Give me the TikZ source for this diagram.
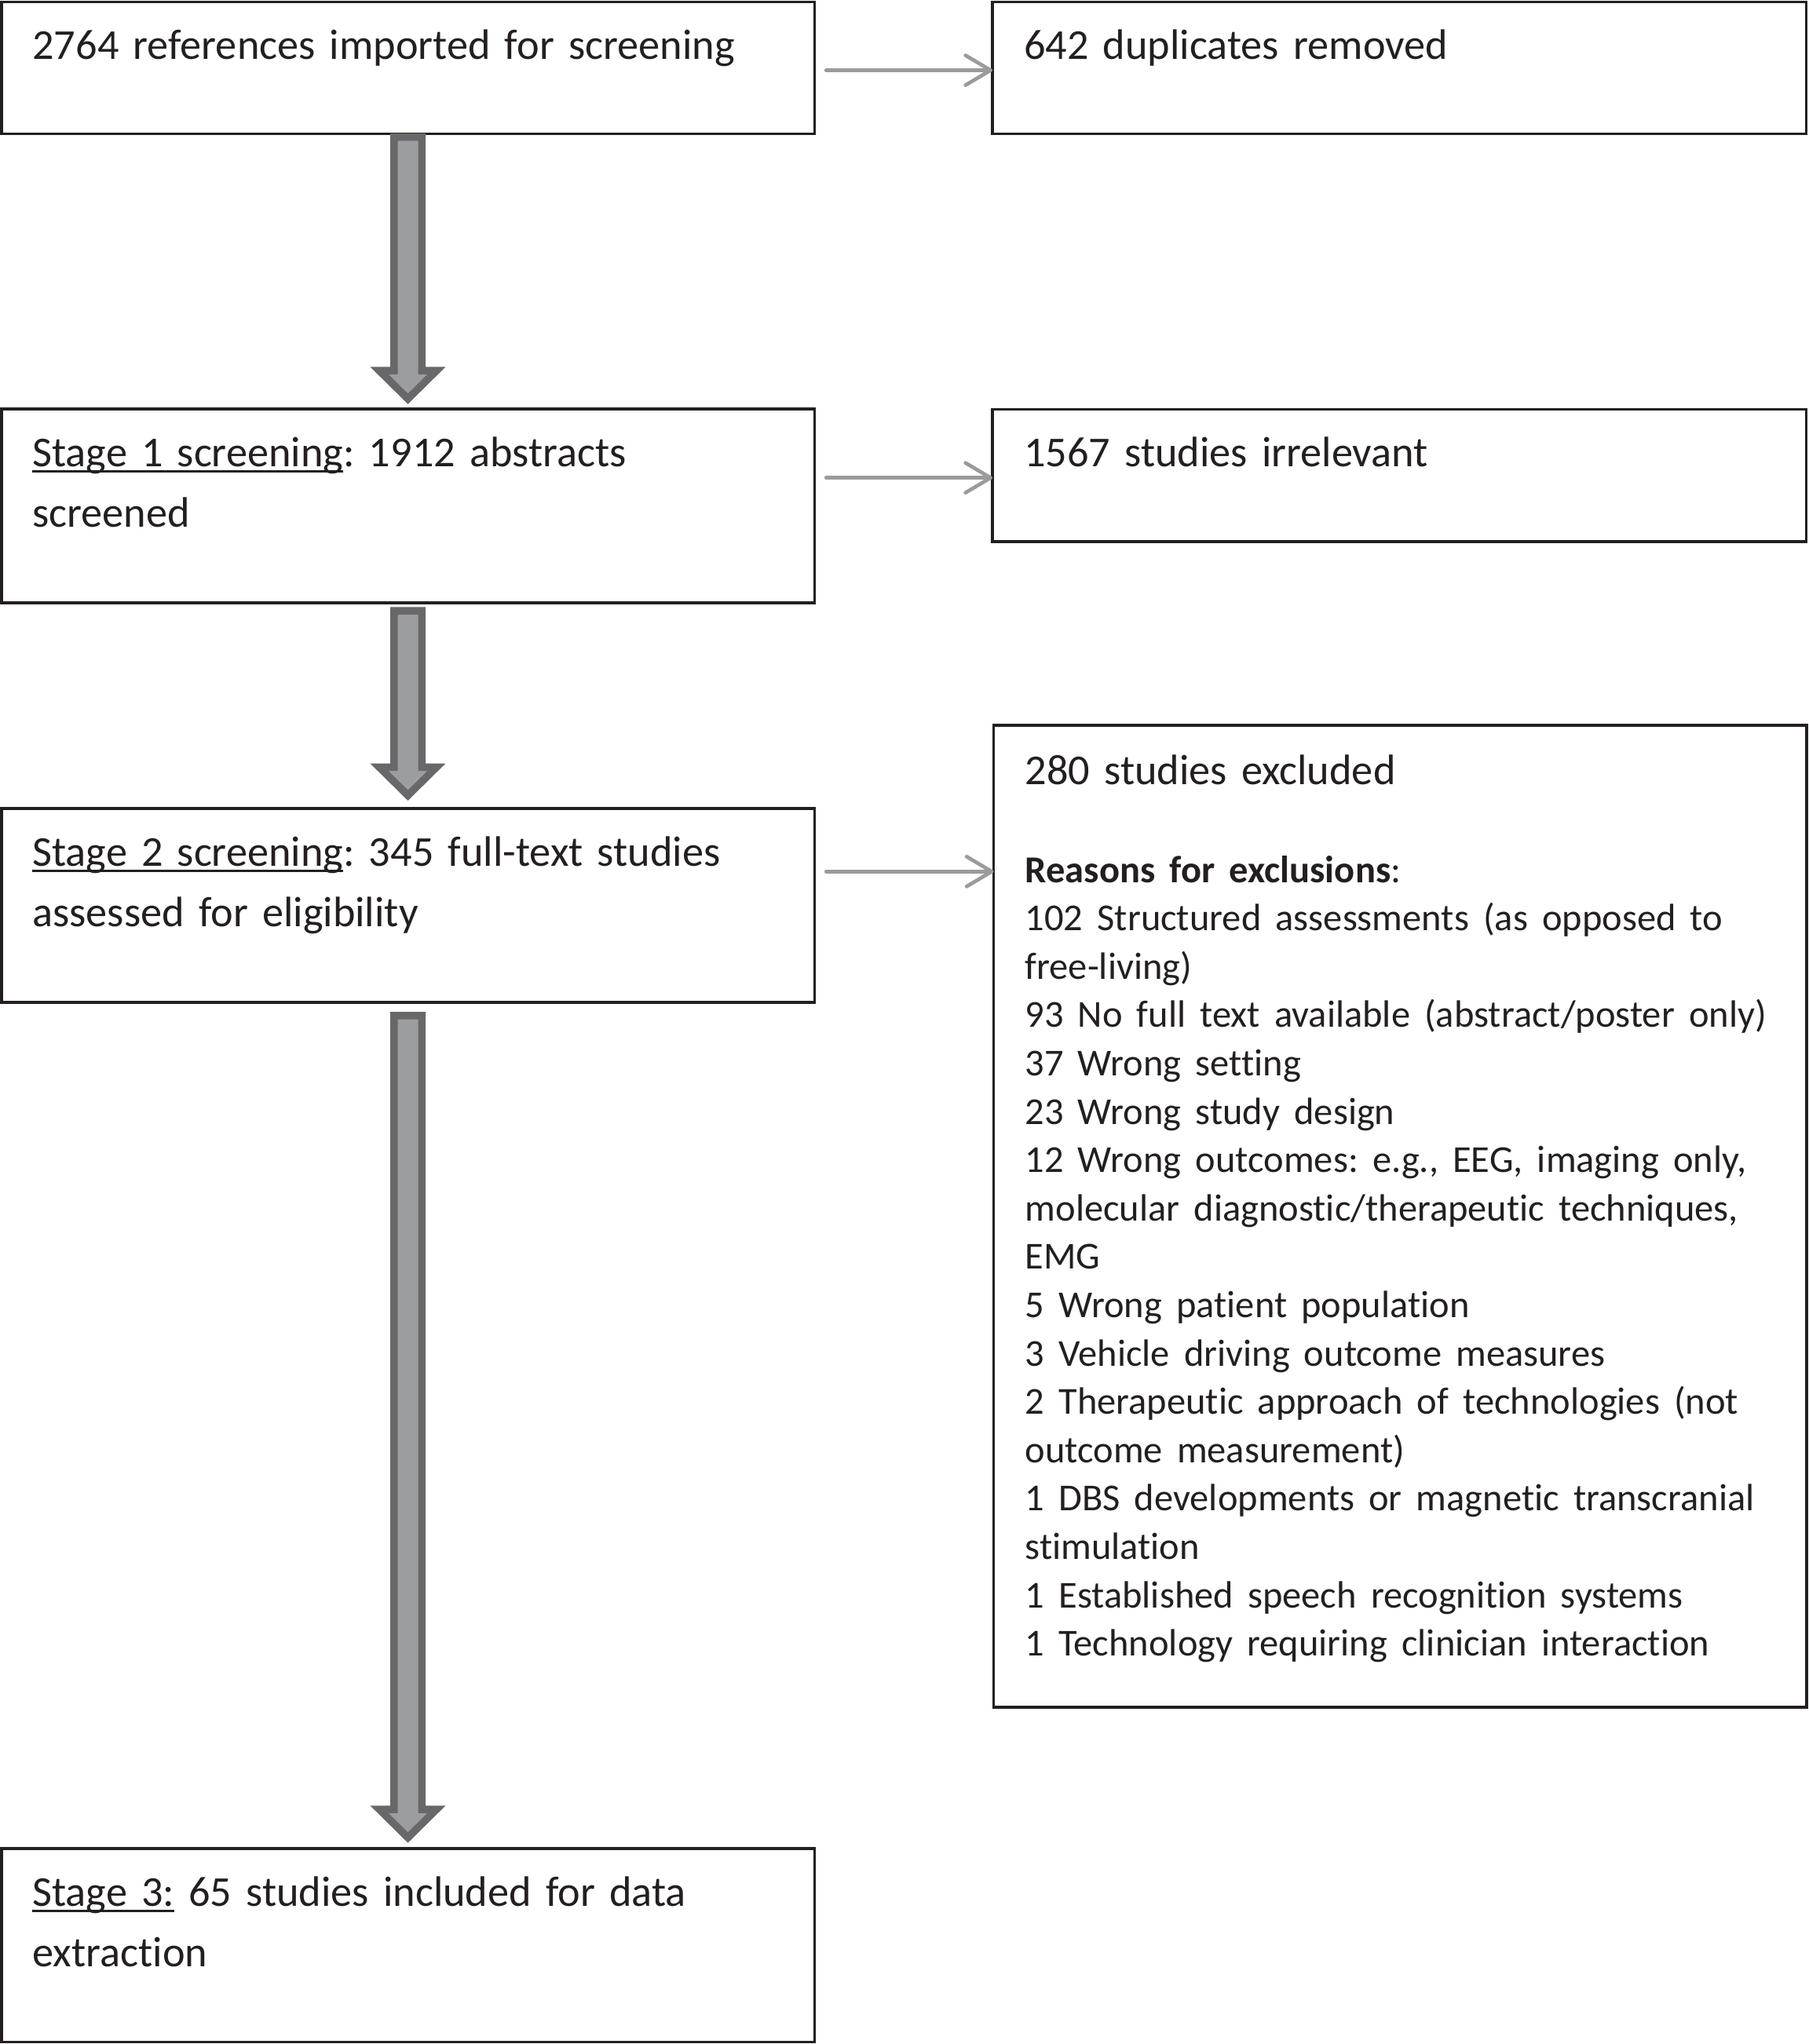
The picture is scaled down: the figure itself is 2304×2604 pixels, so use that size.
\documentclass[tikz,border=0pt]{standalone}
\usepackage{fontspec}
\setmainfont{Carlito}[Ligatures=NoCommon]
\usetikzlibrary{calc,arrows.meta}
\definecolor{boxline}{HTML}{231F20}
\definecolor{thinarr}{HTML}{9B9B9B}
\definecolor{fatedge}{HTML}{68686B}
\definecolor{fatfill}{HTML}{9C9DA1}
\newcommand\ulx[1]{\setbox0\hbox{#1}\rlap{\rule[-8pt]{\wd0}{3.4pt}}\box0}
\newcommand\fatarr[4]{%
  \draw[fatarrow] ($(#1.south)+(-17.75,#3)$) -- ($(#2.north)+(-17.75,-#4-36)$)
    -- ($(#2.north)+(-36.5,-#4-36)$) -- ($(#2.north)+(0,-#4)$)
    -- ($(#2.north)+(36.5,-#4-36)$) -- ($(#2.north)+(17.75,-#4-36)$)
    -- ($(#1.south)+(17.75,#3)$) -- cycle;}
\begin{document}
\frenchspacing
\hyphenpenalty=10000
\begin{tikzpicture}[x=1pt,y=-1pt,
  box/.style={draw=boxline, line width=3.5pt, rectangle, inner sep=0pt, outer sep=0pt, anchor=north west},
  lefttext/.style={anchor=base west, inner sep=0pt, text width=1100pt, align=left, text=boxline,
    font=\fontsize{54.3}{77.2}\selectfont\frenchspacing},
  righttext/.style={anchor=base west, inner sep=0pt, text width=1100pt, align=left, text=boxline,
    font=\fontsize{54.3}{61.8}\selectfont\frenchspacing},
  thinarrow/.style={draw=thinarr, line width=4.7pt, line cap=round,
    -{Straight Barb[length=32pt,width=38pt,round]}},
  fatarrow/.style={draw=fatedge, fill=fatfill, line width=9.5pt, line join=miter}
]
\useasboundingbox (0,0) rectangle (2304,2604);

% boxes
\node[box, minimum width=1035.5pt, minimum height=168pt] (b1) at (1.75,2.5) {};
\node[box, minimum width=1036.5pt, minimum height=168pt] (dup) at (1264,2.5) {};
\node[box, minimum width=1035.5pt, minimum height=247pt] (s1) at (1.75,521) {};
\node[box, minimum width=1036.5pt, minimum height=168.5pt] (irr) at (1264,521.5) {};
\node[box, minimum width=1035.5pt, minimum height=247pt] (s2) at (1.75,1030) {};
\node[box, minimum width=1035.5pt, minimum height=1251pt] (ex) at (1265.5,924) {};
\node[box, minimum width=1035.5pt, minimum height=246.5pt] (s3) at (1.75,2355) {};

% texts
\node[lefttext] (b1t) at ($(b1.north west)+(39.5,73)$) {2764 references imported for screening};
\node[righttext] (dupt) at ($(dup.north west)+(40,73)$) {642 duplicates removed};
\node[lefttext] (s1t) at ($(s1.north west)+(39.5,73)$) {\ulx{Stage 1 screening}: 1912 abstracts\\screened};
\node[righttext] (irrt) at ($(irr.north west)+(40,73)$) {1567 studies irrelevant};
\node[lefttext] (s2t) at ($(s2.north west)+(39.5,73)$) {\ulx{Stage 2 screening}: 345 full-text studies\\assessed for eligibility};
\node[lefttext] (s3t) at ($(s3.north west)+(39.5,73)$) {\ulx{Stage 3:}\ 65 studies included for data\\extraction};
\node[righttext] (ext) at ($(ex.north west)+(40,75)$) {280 studies excluded\\[63.5pt]
\fontsize{48.5}{61.6}\selectfont
\textbf{Reasons for exclusions}:\\
102 Structured assessments (as opposed to\\
free-living)\\
93 No full text available (abstract/poster only)\\
37 Wrong setting\\
23 Wrong study design\\
12 Wrong outcomes: e.g., EEG, imaging only,\\
molecular diagnostic/therapeutic techniques,\\
EMG\\
5 Wrong patient population\\
3 Vehicle driving outcome measures\\
2 Therapeutic approach of technologies (not\\
outcome measurement)\\
1 DBS developments or magnetic transcranial\\
stimulation\\
1 Established speech recognition systems\\
1 Technology requiring clinician interaction};

% thin arrows
\coordinate (t1) at ($(b1.north east)+(15,87)$);
\coordinate (t2) at ($(s1.north east)+(15,87.7)$);
\coordinate (t3) at ($(s2.north east)+(15,80.3)$);
\draw[thinarrow] (t1) -- (t1 -| dup.west);
\draw[thinarrow] (t2) -- (t2 -| irr.west);
\draw[thinarrow] (t3) -- (t3 -| ex.west);

% fat arrows
\fatarr{b1}{s1}{4}{12.9}
\fatarr{s1}{s2}{10}{16.7}
\fatarr{s2}{s3}{16.75}{14}
\end{tikzpicture}
\end{document}
